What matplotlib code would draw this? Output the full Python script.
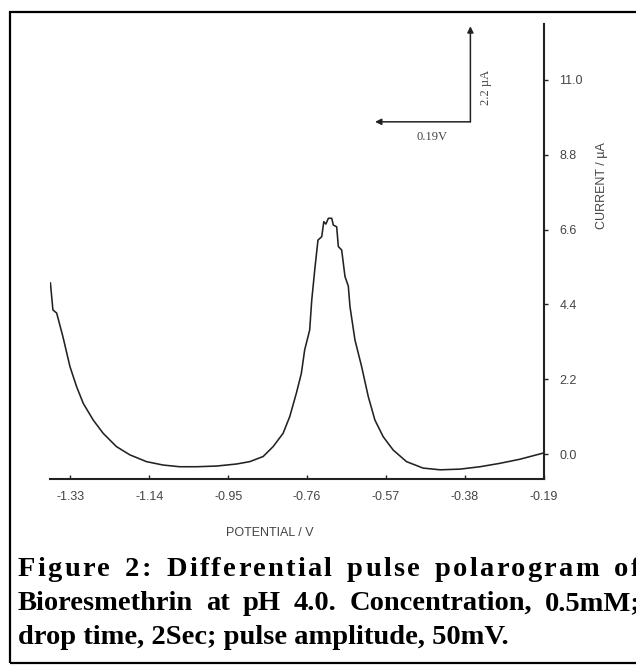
import matplotlib
matplotlib.use("Agg")
import matplotlib.pyplot as plt
from matplotlib.patches import Rectangle
from matplotlib.font_manager import FontProperties

potential = [-1.378, -1.372, -1.363, -1.348, -1.331, -1.315, -1.299, -1.275, -1.251, -1.219,
             -1.187, -1.147, -1.107, -1.067, -1.026, -0.978, -0.930, -0.898, -0.866, -0.842,
             -0.818, -0.802, -0.786, -0.774, -0.766, -0.754, -0.749, -0.741, -0.734, -0.725,
             -0.720, -0.715, -0.709, -0.701, -0.697, -0.689, -0.685, -0.677, -0.669, -0.661,
             -0.657, -0.645, -0.629, -0.613, -0.597, -0.577, -0.553, -0.521, -0.481, -0.440,
             -0.392, -0.344, -0.296, -0.248, -0.192]
current = [5.03, 4.24, 4.15, 3.46, 2.58, 1.99, 1.50, 1.01, 0.62, 0.23,
           -0.01, -0.21, -0.31, -0.36, -0.36, -0.34, -0.28, -0.21, -0.06, 0.23,
           0.62, 1.11, 1.80, 2.38, 3.07, 3.65, 4.53, 5.51, 6.29, 6.39,
           6.83, 6.76, 6.93, 6.93, 6.73, 6.68, 6.10, 6.00, 5.22, 4.94,
           4.34, 3.36, 2.58, 1.70, 1.01, 0.52, 0.13, -0.21, -0.40, -0.45,
           -0.43, -0.36, -0.26, -0.14, 0.04]

x_ticks = [-1.33, -1.14, -0.95, -0.76, -0.57, -0.38, -0.19]
x_tick_labels = ["-1.33", "-1.14", "-0.95", "-0.76", "-0.57", "-0.38", "-0.19"]
y_ticks = [0.0, 2.2, 4.4, 6.6, 8.8, 11.0]
y_tick_labels = ["0.0", "2.2", "4.4", "6.6", "8.8", "11.0"]

caption_1 = ["Figure", "2:", "Differential", "pulse", "polarogram", "of"]
caption_2 = ["Bioresmethrin", "at", "pH", "4.0.", "Concentration,", "0.5mM;"]
caption_3 = "drop time, 2Sec; pulse amplitude, 50mV."

W, H = 636, 665
sans = "Liberation Sans"
serif = "Liberation Serif"
ink = "#222222"
grey_text = "#444444"

fig = plt.figure(figsize=(W / 100, H / 100), dpi=100)
ax = fig.add_axes([50 / W, 1 - 479 / H, 494 / W, 455 / H])

ax.plot(potential, current, color=ink, lw=1.15)

ax.set_xlim(-1.379, -0.19)
ax.set_ylim(-0.72, 12.63)
for side in ["left", "top"]:
    ax.spines[side].set_visible(False)
for side in ["right", "bottom"]:
    ax.spines[side].set_linewidth(1.5)
    ax.spines[side].set_color(ink)

ax.yaxis.tick_right()
ax.set_xticks(x_ticks, x_tick_labels)
ax.set_yticks(y_ticks, y_tick_labels)
ax.tick_params(axis="x", direction="in", length=3, width=1, color=ink, pad=9,
               labelsize=9, labelcolor=grey_text)
ax.tick_params(axis="y", direction="out", length=3, width=1, color=ink, pad=8,
               labelsize=9, labelcolor=grey_text)
for lab in ax.get_xticklabels() + ax.get_yticklabels():
    lab.set_family(sans)

ax.set_xlabel("POTENTIAL / V", family=sans, fontsize=9, color=grey_text, va="center")
ax.xaxis.set_label_coords(0.445, -0.119)
ax.yaxis.set_label_position("right")
ax.set_ylabel("CURRENT / \u00b5A", family=sans, fontsize=9, color=grey_text,
              rotation=90, va="center")
ax.yaxis.set_label_coords(1.117, 0.646)

# scale bar
arrow = dict(arrowstyle="-|>", lw=1.1, color=ink, mutation_scale=9, shrinkA=0, shrinkB=0)
ax.annotate("", xy=(0.851, 0.995), xytext=(0.851, 0.785), xycoords="axes fraction",
            arrowprops=arrow)
ax.annotate("", xy=(0.658, 0.785), xytext=(0.851, 0.785), xycoords="axes fraction",
            arrowprops=arrow)
ax.text(0.882, 0.86, "2.2 \u00b5A", transform=ax.transAxes, rotation=90, family=serif,
        fontsize=9, color=grey_text, ha="center", va="center")
ax.text(0.773, 0.751, "0.19V", transform=ax.transAxes, family=serif, fontsize=9,
        color=grey_text, ha="center", va="center")

# frame round the figure, right side is cut off in the scan
fig.patches.append(Rectangle((10 / W, 2 / H), 1.2, 651 / H, transform=fig.transFigure,
                             fill=False, lw=1.6, edgecolor="black", clip_on=False))

# caption, justified like the printed page (lines run past the right edge)
fp = FontProperties(family=serif, weight="bold", size=20.5)
renderer = fig.canvas.get_renderer()
ref_w = renderer.get_text_width_height_descent("l", fp, ismath=False)[0]


def advance(ch):
    w = renderer.get_text_width_height_descent(ch + "l", fp, ismath=False)[0]
    return w - ref_w


def word_width(word, extra):
    return sum(advance(ch) for ch in word) + extra * (len(word) - 1)


def justify(words, x0, x1, y_px, extra):
    widths = [word_width(w, extra) for w in words]
    gap = (x1 - x0 - sum(widths)) / (len(words) - 1)
    x = x0
    for word, w in zip(words, widths):
        if extra:
            cx = x
            for ch in word:
                fig.text(cx / W, 1 - y_px / H, ch, fontproperties=fp, color="black")
                cx += advance(ch) + extra
        else:
            fig.text(x / W, 1 - y_px / H, word, fontproperties=fp, color="black")
        x += w + gap


justify(caption_1, 18, 640, 576, 2.2)
justify(caption_2, 18, 641, 610, 0)
fig.text(18 / W, 1 - 644 / H, caption_3, fontproperties=fp, color="black")

fig.savefig("out.png", dpi=100)
